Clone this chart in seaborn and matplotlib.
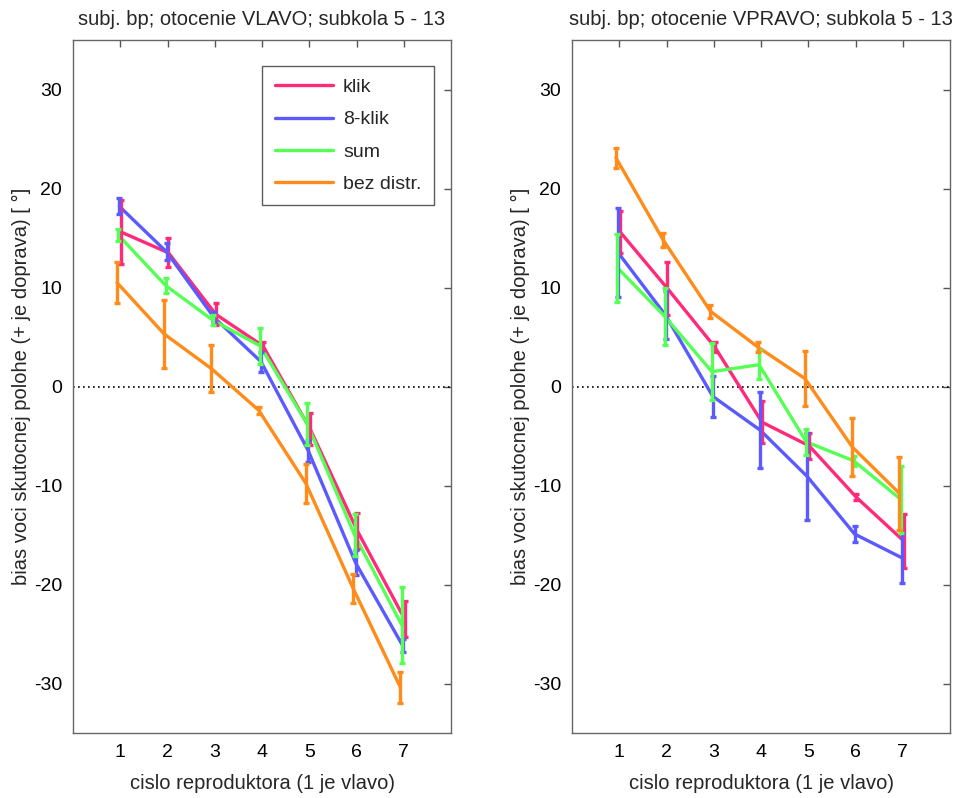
import numpy as np
import pandas as pd
import matplotlib
matplotlib.use("Agg")
import matplotlib.pyplot as plt
import seaborn as sns

speakers = [1, 2, 3, 4, 5, 6, 7]
series_names = ["klik", "8-klik", "sum", "bez distr."]
colors = ["#FF2A7A", "#5A5AFF", "#55FF55", "#FF8C1A"]
dodge = [0.02, -0.02, -0.04, -0.07]

titles = ["subj. bp; otocenie VLAVO; subkola 5 - 13",
          "subj. bp; otocenie VPRAVO; subkola 5 - 13"]

# left panel (VLAVO)
left_klik = [15.6, 13.5, 7.3, 4.1, -4.3, -14.6, -23.5]
left_klik_err = [3.2, 1.45, 1.1, 0.4, 1.6, 1.85, 1.8]
left_8klik = [18.2, 13.6, 7.0, 2.5, -6.5, -17.8, -26.2]
left_8klik_err = [0.8, 0.85, 0.5, 1.0, 1.1, 1.25, 0.65]
left_sum = [15.3, 10.2, 6.7, 4.1, -3.8, -15.0, -24.1]
left_sum_err = [0.6, 0.75, 0.5, 1.8, 2.1, 2.1, 3.8]
left_bez = [10.5, 5.3, 1.8, -2.4, -9.8, -20.4, -30.4]
left_bez_err = [2.05, 3.4, 2.4, 0.35, 2.0, 1.5, 1.6]

# right panel (VPRAVO)
right_klik = [15.6, 9.9, 4.0, -3.6, -6.0, -11.2, -15.6]
right_klik_err = [2.1, 2.7, 0.5, 2.1, 1.35, 0.3, 2.7]
right_8klik = [13.5, 7.2, -1.0, -4.4, -9.1, -14.9, -17.3]
right_8klik_err = [4.5, 2.45, 2.1, 3.8, 4.4, 0.85, 2.5]
right_sum = [12.0, 7.1, 1.5, 2.2, -5.6, -7.5, -11.4]
right_sum_err = [3.45, 2.9, 2.85, 1.45, 1.35, 0.5, 3.35]
right_bez = [23.1, 14.8, 7.6, 4.0, 0.8, -6.1, -10.8]
right_bez_err = [1.0, 0.7, 0.65, 0.5, 2.8, 2.95, 3.7]

panels = [
    ([left_klik, left_8klik, left_sum, left_bez],
     [left_klik_err, left_8klik_err, left_sum_err, left_bez_err]),
    ([right_klik, right_8klik, right_sum, right_bez],
     [right_klik_err, right_8klik_err, right_sum_err, right_bez_err]),
]

sns.set_theme(style="white")
plt.rcParams["font.family"] = ["Liberation Sans", "DejaVu Sans"]
plt.rcParams["axes.unicode_minus"] = False

fig = plt.figure(figsize=(9.63, 7.98), dpi=100)
axes = [fig.add_axes([73 / 963, 65 / 798, 378 / 963, 693 / 798]),
        fig.add_axes([572 / 963, 65 / 798, 378 / 963, 693 / 798])]

palette = dict(zip(series_names, colors))
FS = 14.5

for pi, (ax, (vals, errs)) in enumerate(zip(axes, panels)):
    rows = []
    for si, name in enumerate(series_names):
        for k, sp in enumerate(speakers):
            rows.append({"x": sp + dodge[si], "y": vals[si][k],
                         "err": errs[si][k], "series": name})
    df = pd.DataFrame(rows)
    ax.axhline(0, color="black", linestyle=(0, (1, 2)), linewidth=1.2, zorder=1)
    sns.lineplot(data=df, x="x", y="y", hue="series", hue_order=series_names,
                 palette=palette, linewidth=2.4, ax=ax, legend=(pi == 0),
                 zorder=3, sort=False, estimator=None)
    for name in series_names:
        sub = df[df["series"] == name]
        ax.errorbar(sub["x"], sub["y"], yerr=sub["err"], fmt="none",
                    ecolor=palette[name], elinewidth=2.4, capsize=2.5,
                    capthick=2.4, zorder=3)
    ax.set_xlim(0, 8)
    ax.set_ylim(-35, 35)
    ax.set_xticks(speakers)
    ax.set_yticks([-30, -20, -10, 0, 10, 20, 30])
    ax.tick_params(direction="in", length=5, width=1, colors="#555555",
                   labelcolor="black", labelsize=14, top=True, right=True,
                   pad=8)
    for sp_ in ax.spines.values():
        sp_.set_color("#666666")
        sp_.set_linewidth(1)
    ax.set_title(titles[pi], fontsize=FS, pad=11)
    ax.set_xlabel("cislo reproduktora (1 je vlavo)", fontsize=FS, labelpad=9)
    ax.set_ylabel("bias voci skutocnej polohe (+ je doprava) [ °]", fontsize=FS,
                  labelpad=2)
    if pi == 0:
        leg = ax.legend(loc="upper right", bbox_to_anchor=(0.955, 0.9625),
                        borderaxespad=0.0,
                        frameon=True, fancybox=False, fontsize=14,
                        handlelength=3.0, labelspacing=0.75, borderpad=0.65,
                        handletextpad=0.5, title=None)
        leg.get_frame().set_edgecolor("#333333")
        leg.get_frame().set_linewidth(1)
        for line in leg.get_lines():
            line.set_linewidth(2.4)

fig.savefig("out.png", dpi=100)
